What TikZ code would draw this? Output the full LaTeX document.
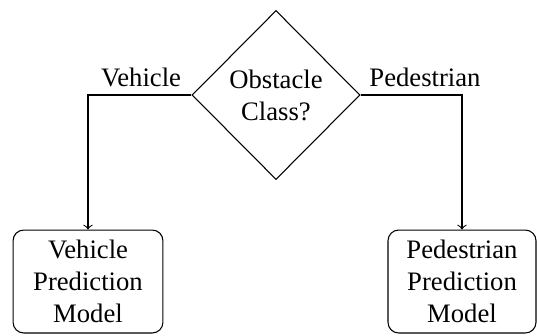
\documentclass[tikz,border=0pt]{standalone}
\usepackage{fontspec}
\setmainfont{Liberation Serif}
\usetikzlibrary{shapes.geometric}
\begin{document}
\begin{tikzpicture}[x=0.375pt,y=-0.375pt,
  decision/.style={draw,shape=diamond,inner sep=0pt,minimum width=63pt,minimum height=63.4pt,align=center,line width=0.4pt},
  model/.style={draw,rounded corners=4pt,align=center,minimum height=38.6pt,inner sep=0pt,line width=0.4pt},
  conn/.style={->,line width=0.4pt},
  lbl/.style={anchor=base,inner sep=0pt}]
\useasboundingbox (0,0) rectangle (537,335);
\node[decision] (d) at (276,95) {Obstacle\\Class?};
\node[model,minimum width=56.2pt] (v) at (88,281.5) {Vehicle\\Prediction\\Model};
\node[model,minimum width=55.5pt] (p) at (462,281.5) {Pedestrian\\Prediction\\Model};
\draw[conn] (d.west) -| (v.north);
\draw[conn] (d.east) -| (p.north);
\node[lbl] (lv) at (141,86.5) {Vehicle};
\node[lbl] (lp) at (425,86.5) {Pedestrian};
\end{tikzpicture}
\end{document}
